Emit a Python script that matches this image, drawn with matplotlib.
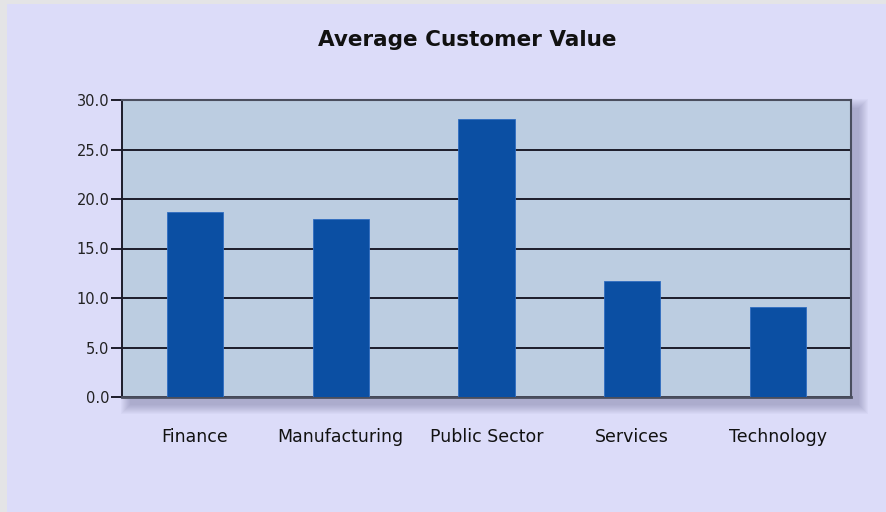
import matplotlib
matplotlib.use("Agg")
import matplotlib.pyplot as plt
from matplotlib.patches import Rectangle

# Average customer value per industry segment
segments = ["Finance", "Manufacturing", "Public Sector", "Services", "Technology"]
avg_value = [18.7, 18.0, 28.1, 11.7, 9.1]
y_ticks = [0, 5, 10, 15, 20, 25, 30]

page_bg = "#DCDCF9"
plot_bg = "#BCCDE1"
bar_color = "#0B4FA3"
line_color = "#1C1C2A"
frame_color = "#4A4E5E"

W, H = 886, 512
fig = plt.figure(figsize=(W / 100, H / 100), dpi=100)
fig.patch.set_facecolor(page_bg)

# thin grey margin at the top and left edge of the page
fig.patches.append(Rectangle((0, 0), 7 / W, 1, transform=fig.transFigure,
                             facecolor="#E4E4E6", edgecolor="none", zorder=0))
fig.patches.append(Rectangle((0, 1 - 4 / H), 1, 4 / H, transform=fig.transFigure,
                             facecolor="#E4E4E6", edgecolor="none", zorder=0))

# plot area in pixels
px_left, px_right, px_top, px_bottom = 122, 851, 100, 397
left, bottom = px_left / W, 1 - px_bottom / H
width, height = (px_right - px_left) / W, (px_bottom - px_top) / H

# soft drop shadow: stacked translucent rectangles, offset down-right
off = 8
for r in range(0, 10):
    fig.patches.append(Rectangle(((px_left + off - r) / W, 1 - (px_bottom + off + r) / H),
                                 (px_right - px_left + 2 * r) / W,
                                 (px_bottom - px_top + 2 * r) / H,
                                 transform=fig.transFigure, facecolor="#4A4A78",
                                 edgecolor="none", alpha=0.035, zorder=0))

ax = fig.add_axes([left, bottom, width, height])
ax.set_zorder(2)
ax.set_facecolor(plot_bg)
ax.set_axisbelow(True)

x = range(len(segments))
ax.bar(x, avg_value, width=0.385, color=bar_color, edgecolor="#2F6CC0",
       linewidth=0.6, zorder=3)

ax.set_xlim(-0.5, len(segments) - 0.5)
ax.set_ylim(0, 30)
ax.set_yticks(y_ticks)
ax.set_yticklabels([f"{v:.1f}" for v in y_ticks])
ax.set_xticks(list(x))
ax.set_xticklabels(segments)

ax.yaxis.grid(True, color=line_color, linewidth=1.4)
ax.tick_params(axis="y", length=8, width=1.4, color=line_color, pad=1,
               labelsize=10.5, labelcolor="#222222")
ax.tick_params(axis="x", length=0, pad=22, labelsize=12.5, labelcolor="#111111")

for side in ["top", "right"]:
    ax.spines[side].set_color(frame_color)
    ax.spines[side].set_linewidth(1.5)
ax.spines["left"].set_color(line_color)
ax.spines["left"].set_linewidth(1.4)
ax.spines["bottom"].set_color(frame_color)
ax.spines["bottom"].set_linewidth(2)

fig.text(467 / W, 1 - 40 / H, "Average Customer Value", ha="center",
         va="center", fontsize=15.5, fontweight="bold", color="#111111")

fig.savefig("out.png", dpi=100, facecolor=fig.get_facecolor())
